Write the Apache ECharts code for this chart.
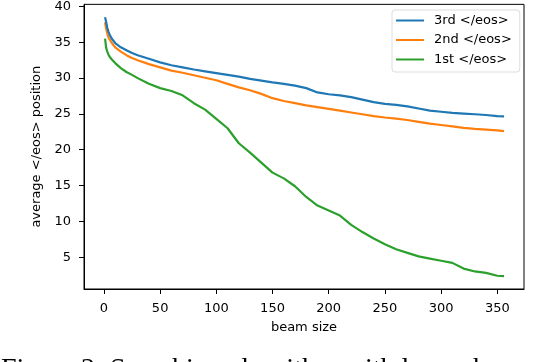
<!DOCTYPE html>
<html>
<head>
<meta charset="utf-8">
<script src="https://cdn.jsdelivr.net/npm/echarts@6/dist/echarts.min.js"></script>
<style>
  html, body { margin: 0; padding: 0; background: #fff; }
  #chart { width: 560px; height: 362px; }
</style>
</head>
<body>
<div id="chart"></div>
<script>
// beam sizes sampled along the curves
var beamSizes = [1, 2, 3, 4, 5, 7, 10, 15, 20, 25, 30, 40, 50, 60, 70, 80, 90, 100, 110, 120,
  130, 140, 150, 160, 170, 180, 190, 200, 210, 220, 230, 240, 250, 260, 270, 280, 290, 300,
  310, 320, 330, 340, 350, 356]

var third = [38.5, 37.8, 37.0, 36.5, 36.1, 35.5, 34.9, 34.3, 33.9, 33.5, 33.2, 32.7, 32.2, 31.8,
  31.5, 31.2, 30.95, 30.7, 30.45, 30.2, 29.9, 29.65, 29.4, 29.2, 28.95, 28.6, 28.0, 27.75, 27.6,
  27.35, 27.0, 26.65, 26.4, 26.25, 26.05, 25.75, 25.45, 25.3, 25.15, 25.05, 24.95, 24.85, 24.7, 24.65]

var second = [37.8, 36.9, 36.2, 35.7, 35.4, 34.9, 34.3, 33.7, 33.2, 32.8, 32.5, 31.95, 31.5, 31.05,
  30.75, 30.4, 30.05, 29.7, 29.2, 28.7, 28.3, 27.8, 27.2, 26.8, 26.5, 26.2, 25.95, 25.7, 25.45,
  25.2, 24.95, 24.7, 24.5, 24.35, 24.15, 23.9, 23.65, 23.45, 23.25, 23.05, 22.9, 22.8, 22.7, 22.6]

var first = [35.5, 34.2, 33.7, 33.3, 33.0, 32.6, 32.1, 31.4, 30.85, 30.45, 30.0, 29.2, 28.6, 28.2,
  27.6, 26.5, 25.6, 24.3, 23.0, 20.9, 19.6, 18.2, 16.8, 16.0, 14.9, 13.4, 12.2, 11.5, 10.8,
  9.5, 8.5, 7.6, 6.8, 6.1, 5.6, 5.1, 4.8, 4.5, 4.2, 3.4, 3.0, 2.8, 2.4, 2.35]

var xTicks = [0, 50, 100, 150, 200, 250, 300, 350]
var yTicks = [5, 10, 15, 20, 25, 30, 35, 40]

var seriesNames = ['3rd </eos>', '2nd </eos>', '1st </eos>']
var seriesColors = ['#1f77b4', '#ff7f0e', '#2ca02c']
var seriesValues = [third, second, first]

function toPoints(values) {
  return beamSizes.map(function (b, i) { return [b, values[i]] })
}

var font = 'DejaVu Sans'
var fs = 13
var chart = echarts.init(document.getElementById('chart'), null, { renderer: 'canvas' })

chart.setOption({
  animation: false,
  backgroundColor: '#fff',
  textStyle: { fontFamily: font },
  grid: {
    left: 84,
    right: 36,
    top: 4,
    bottom: 73,
    show: true,
    borderColor: '#000',
    borderWidth: 1,
    containLabel: false
  },
  legend: {
    orient: 'vertical',
    left: 392,
    top: 10,
    data: seriesNames,
    icon: 'rect',
    itemWidth: 28,
    itemHeight: 2,
    itemGap: 6.5,
    padding: [4, 8, 6, 4],
    borderColor: '#dddddd',
    borderWidth: 1,
    borderRadius: 3,
    backgroundColor: 'rgba(255,255,255,0.8)',
    textStyle: { fontFamily: font, fontSize: fs, color: '#000', padding: [0, 0, 0, 5], lineHeight: 13 }
  },
  xAxis: {
    type: 'value',
    min: -17.75,
    max: 373.75,
    name: 'beam size',
    nameLocation: 'middle',
    nameGap: 32,
    nameTextStyle: { fontFamily: font, fontSize: fs, color: '#000' },
    axisLine: { show: true, onZero: false, lineStyle: { color: '#000', width: 1 } },
    axisTick: { show: true, length: 5, lineStyle: { color: '#000' }, customValues: xTicks },
    axisLabel: { fontFamily: font, fontSize: fs, color: '#000', margin: 13, customValues: xTicks },
    splitLine: { show: false }
  },
  yAxis: {
    type: 'value',
    min: 0.55,
    max: 40.3,
    name: 'average </eos> position',
    nameLocation: 'middle',
    nameGap: 35.5,
    nameTextStyle: { fontFamily: font, fontSize: fs, color: '#000' },
    axisLine: { show: true, onZero: false, lineStyle: { color: '#000', width: 1 } },
    axisTick: { show: true, length: 5, lineStyle: { color: '#000' }, customValues: yTicks },
    axisLabel: { fontFamily: font, fontSize: fs, color: '#000', margin: 13, customValues: yTicks },
    splitLine: { show: false }
  },
  series: seriesNames.map(function (name, i) {
    return {
      name: name,
      type: 'line',
      data: toPoints(seriesValues[i]),
      showSymbol: false,
      symbol: 'none',
      color: seriesColors[i],
      lineStyle: { width: 2.2, color: seriesColors[i] },
      z: 3 - i
    }
  }),
  graphic: [{
    type: 'text',
    left: 1,
    top: 356,
    style: {
      text: 'Figure 2: Searching algorithm with larger beams',
      fontFamily: 'Liberation Serif',
      fontSize: 28,
      fill: '#000'
    }
  }]
})
</script>
</body>
</html>
